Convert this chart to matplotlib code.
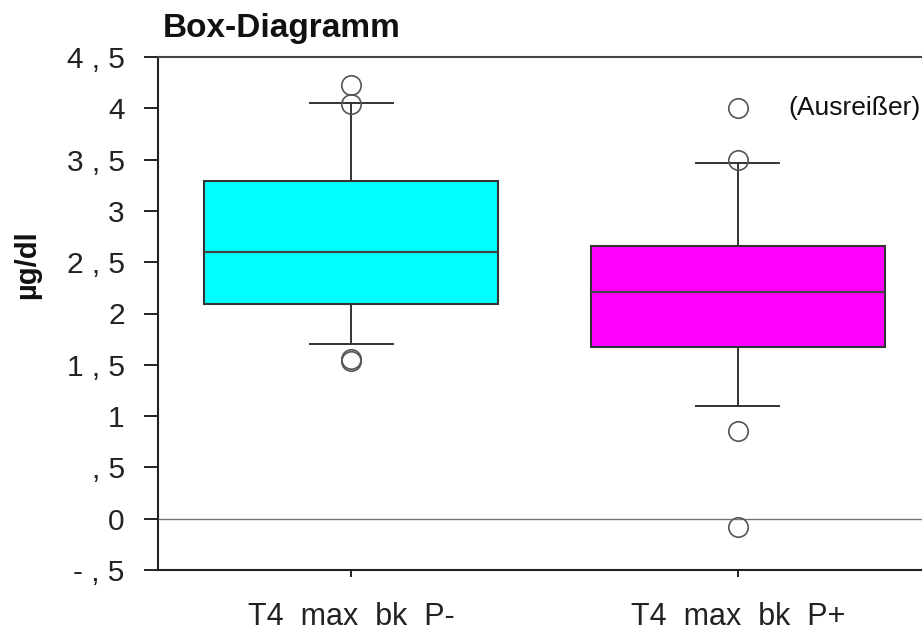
import matplotlib
matplotlib.use("Agg")
import matplotlib.pyplot as plt

plt.rcParams['font.family'] = ['Liberation Sans', 'DejaVu Sans']

groups = ["T4  max  bk  P-", "T4  max  bk  P+"]
colors = ["#00ffff", "#ff00ff"]

# box statistics per group (µg/dl)
q1 = [2.09, 1.67]
median = [2.60, 2.21]
q3 = [3.29, 2.66]
whisker_low = [1.70, 1.10]
whisker_high = [4.05, 3.47]
outliers = [[4.23, 4.04, 1.56, 1.54], [4.00, 3.50, 0.85, -0.08]]

y_ticks = [-0.5, 0, 0.5, 1, 1.5, 2, 2.5, 3, 3.5, 4, 4.5]
y_labels = ["- , 5", "0", ", 5", "1", "1 , 5", "2", "2 , 5", "3", "3 , 5", "4", "4 , 5"]

stats = []
for i in range(len(groups)):
    stats.append({
        "med": median[i], "q1": q1[i], "q3": q3[i],
        "whislo": whisker_low[i], "whishi": whisker_high[i],
        "fliers": outliers[i],
    })

fig = plt.figure(figsize=(9.22, 6.32), dpi=100)
ax = fig.add_axes([158 / 922, 62 / 632, 773 / 922, 513 / 632])

dark = "#333333"
bp = ax.bxp(
    stats, positions=[1, 2], widths=0.76, capwidths=0.215, patch_artist=True,
    boxprops=dict(edgecolor=dark, linewidth=1.5),
    medianprops=dict(color="#444444", linewidth=1.6),
    whiskerprops=dict(color=dark, linewidth=1.4),
    capprops=dict(color=dark, linewidth=1.4),
    flierprops=dict(marker="o", markersize=14, markerfacecolor="none",
                    markeredgecolor="#555555", markeredgewidth=1.2),
)
for patch, c in zip(bp["boxes"], colors):
    patch.set_facecolor(c)

ax.axhline(0, color="#777777", linewidth=1.0, zorder=0)

ax.set_xlim(0.5, 2.5)
ax.set_ylim(-0.5, 4.5)
ax.set_yticks(y_ticks)
ax.set_yticklabels(y_labels)
ax.set_xticks([1, 2])
ax.set_xticklabels(groups)

ax.tick_params(axis="y", direction="out", length=10, width=1.4, pad=14,
               labelsize=21.5, colors="#222222")
ax.tick_params(axis="x", direction="out", length=5, width=1.4, pad=18,
               labelsize=22, colors="#222222")

for side in ["left", "bottom"]:
    ax.spines[side].set_color("#222222")
    ax.spines[side].set_linewidth(1.5)
ax.spines["top"].set_color("#444444")
ax.spines["top"].set_linewidth(1.5)
ax.spines["right"].set_visible(False)

ax.text(2.13, 4.0, "(Ausreißer)", fontsize=19, va="center", ha="left",
        color="#111111")

fig.text(163 / 922, 595 / 632, "Box-Diagramm", fontsize=24, fontweight="bold",
         ha="left", va="baseline", color="#111111")
fig.text(27 / 922, 367 / 632, "µg/dl", fontsize=21, fontweight="bold",
         rotation=90, ha="center", va="center", color="#111111")

fig.savefig("out.png", dpi=100)
